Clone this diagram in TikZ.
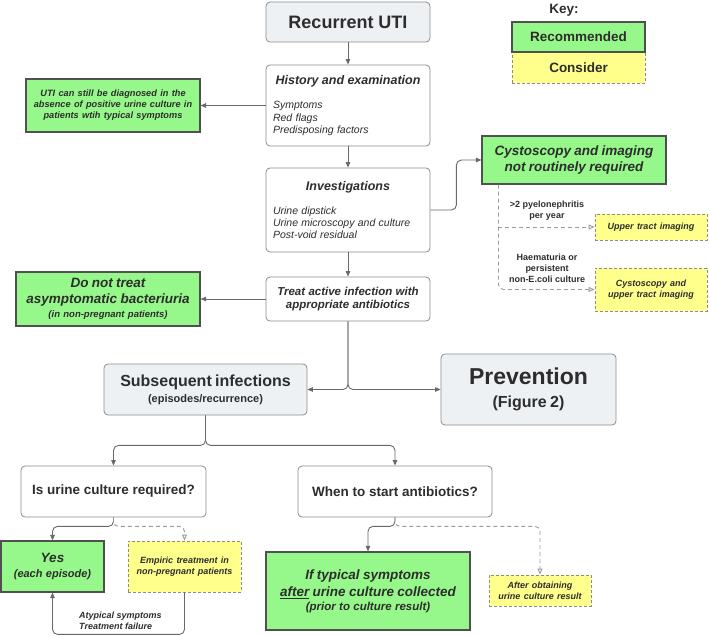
\documentclass[tikz,border=0pt]{standalone}
\usepackage{fontspec}
\setmainfont{Liberation Sans}
\usetikzlibrary{arrows.meta,calc}
\definecolor{gfill}{RGB}{150,248,138}
\definecolor{yfill}{RGB}{255,255,140}
\definecolor{grfill}{RGB}{238,241,244}
\definecolor{txt}{RGB}{45,45,45}
\definecolor{gborder}{RGB}{80,80,80}
\definecolor{wborder}{RGB}{140,140,140}
\definecolor{lcol}{RGB}{105,105,105}
\definecolor{dcol}{RGB}{155,155,155}
\newcommand\myfs[2]{\fontsize{#1}{#2}\selectfont}
\begin{document}
\begin{tikzpicture}[x=1pt,y=-1pt,
  wbox/.style={draw=wborder, line width=0.8pt, rounded corners=4pt, fill=white, text=txt, inner sep=2pt, align=center},
  gbox/.style={wbox, fill=grfill},
  recbox/.style={draw=gborder, line width=1.1pt, fill=gfill, text=txt, inner sep=2pt, align=center},
  consbox/.style={draw=wborder, line width=0.8pt, dash pattern=on 3pt off 2pt, fill=yfill, text=txt, inner sep=2pt, align=center},
  lbl/.style={text=txt, inner sep=0pt, align=center},
  conn/.style={draw=lcol, line width=0.9pt, rounded corners=5pt, -{Triangle[length=5.5pt,width=4.5pt]}},
  dconn/.style={draw=dcol, line width=0.9pt, dash pattern=on 4pt off 3pt, rounded corners=5pt, -{Triangle[open,length=6pt,width=5pt]}}
]
\useasboundingbox (0,0) rectangle (709,636);

% main column
\node[gbox, minimum width=164pt, minimum height=40pt] (rec) at (348,22) {\myfs{18}{21}\bfseries Recurrent UTI};
\node[wbox, minimum width=164pt, minimum height=81pt, text width=150pt, align=left] (hist) at (348,105.5)
 {{\centering\myfs{12.5}{15}\bfseries\itshape History and examination\par}\vspace{12pt}\myfs{10.5}{12.5}\itshape Symptoms\\Red flags\\Predisposing factors\par};
\node[wbox, minimum width=164pt, minimum height=84pt, text width=150pt, align=left] (inv) at (348,210)
 {{\centering\myfs{12.5}{15}\bfseries\itshape Investigations\par}\vspace{12pt}\myfs{10.5}{12}\itshape Urine dipstick\\Urine microscopy and culture\\Post-void residual\par};
\node[wbox, minimum width=164pt, minimum height=44pt, text width=158pt] (treat) at (348,299)
 {\myfs{11.5}{13.5}\bfseries\itshape Treat active infection with\\appropriate antibiotics\par};

% left recommendations
\node[recbox, minimum width=174pt, minimum height=53pt, text width=168pt] (uti) at (113,105.5)
 {\myfs{9.2}{11}\bfseries\itshape UTI can still be diagnosed in the\\absence of positive urine culture in\\patients wtih typical symptoms\par};
\node[recbox, minimum width=184pt, minimum height=54pt, text width=178pt] (dnt) at (108,299)
 {\myfs{13.5}{16}\bfseries\itshape Do not treat\\asymptomatic bacteriuria\par\myfs{9.5}{14}(in non-pregnant patients)\par};

% right: cystoscopy
\node[recbox, minimum width=184pt, minimum height=48pt, text width=178pt] (cyst) at (574,160)
 {\myfs{13.5}{16}\bfseries\itshape Cystoscopy and imaging\\not routinely required\par};
\node[consbox, minimum width=112pt, minimum height=26pt, text width=108pt] (utimg) at (651,227)
 {\myfs{9}{11}\bfseries\itshape Upper tract imaging\par};
\node[consbox, minimum width=112pt, minimum height=43pt, text width=108pt] (ctimg) at (651,289.5)
 {\myfs{9}{11}\bfseries\itshape Cystoscopy and\\upper tract imaging\par};
\node[lbl, font=\myfs{9}{11}\bfseries] (pyelo) at (547,210.5) {>2 pyelonephritis\\per year};
\node[lbl, font=\myfs{9}{11}\bfseries] (haem) at (547,268) {Haematuria or\\persistent\\non-E.coli culture};

% key
\node[lbl, font=\myfs{13.5}{16}\bfseries] (key) at (564,10) {Key:};
\node[consbox, minimum width=133pt, minimum height=31pt] (cons) at (578.5,67.5) {\myfs{13.5}{16}\bfseries Consider};
\node[recbox, minimum width=133pt, minimum height=30pt] (recm) at (578.5,37) {\myfs{13.5}{16}\bfseries Recommended};

% subsequent / prevention
\node[gbox, minimum width=203pt, minimum height=51pt, text width=195pt] (subs) at (205.5,389.5)
 {\myfs{16}{18}\bfseries Subsequent infections\par\myfs{11}{16}(episodes/recurrence)\par};
\node[gbox, minimum width=175pt, minimum height=71pt, text width=168pt] (prev) at (528.5,389.5)
 {\myfs{23}{26}\bfseries Prevention\par\myfs{16}{23}(Figure 2)\par};

% questions
\node[wbox, minimum width=185pt, minimum height=51pt] (isc) at (113.5,491.5) {\myfs{13.5}{16}\bfseries Is urine culture required?};
\node[wbox, minimum width=194pt, minimum height=51pt] (when) at (395,491.5) {\myfs{13.5}{16}\bfseries When to start antibiotics?};

% bottom
\node[recbox, minimum width=103pt, minimum height=51pt, text width=98pt] (yes) at (52.5,566.5)
 {\myfs{13.5}{16}\bfseries\itshape Yes\par\myfs{11}{15}(each episode)\par};
\node[consbox, minimum width=113pt, minimum height=51pt, text width=108pt] (emp) at (184.5,566.5)
 {\myfs{9}{11}\bfseries\itshape Empiric treatment in\\non-pregnant patients\par};
\node[lbl, anchor=west, align=left, font=\myfs{9}{11}\bfseries\itshape] (atyp) at (79,621) {Atypical symptoms\\Treatment failure};
\node[recbox, minimum width=204pt, minimum height=78pt, text width=198pt] (iftyp) at (368,591)
 {\myfs{13.5}{17}\bfseries\itshape If typical symptoms\\\underline{after} urine culture collected\par\myfs{11.5}{14}(prior to culture result)\par};
\node[consbox, minimum width=102pt, minimum height=31pt, text width=98pt] (after) at (540,590.5)
 {\myfs{9}{11}\bfseries\itshape After obtaining\\urine culture result\par};

% connectors
\draw[conn] (rec.south) -- (hist.north);
\draw[conn] (hist.west) -- (uti.east);
\draw[conn] (hist.south) -- (inv.north);
\draw[conn] (inv.south) -- (treat.north);
\draw[conn] (treat.west) -- (dnt.east);
\draw[conn] (inv.east) -- ++(26,0) |- (cyst.west);
\coordinate (dv) at ([xshift=17pt]cyst.south west);
\draw[dconn] (dv) |- (ctimg.west);
\draw[dconn] (dv |- utimg.west) -- (utimg.west);
\draw[conn] (treat.south) |- (subs.east);
\draw[conn] (treat.south) |- (prev.west);
\coordinate (sj) at ($(subs.south)+(0,30)$);
\draw[conn] (subs.south) -- (sj) -| (isc.north);
\draw[conn] (subs.south) -- (sj) -| (when.north);
\draw[conn] (isc.south) -- ++(0,9) -| (yes.north);
\draw[dconn] (isc.south) -- ++(0,9) -| (emp.north);
\draw[conn] (emp.south) -- ++(0,42) -| (yes.south);
\draw[conn] (when.south) -- ++(0,9) -| (iftyp.north);
\draw[dconn] (when.south) -- ++(0,9) -| (after.north);
\end{tikzpicture}
\end{document}
